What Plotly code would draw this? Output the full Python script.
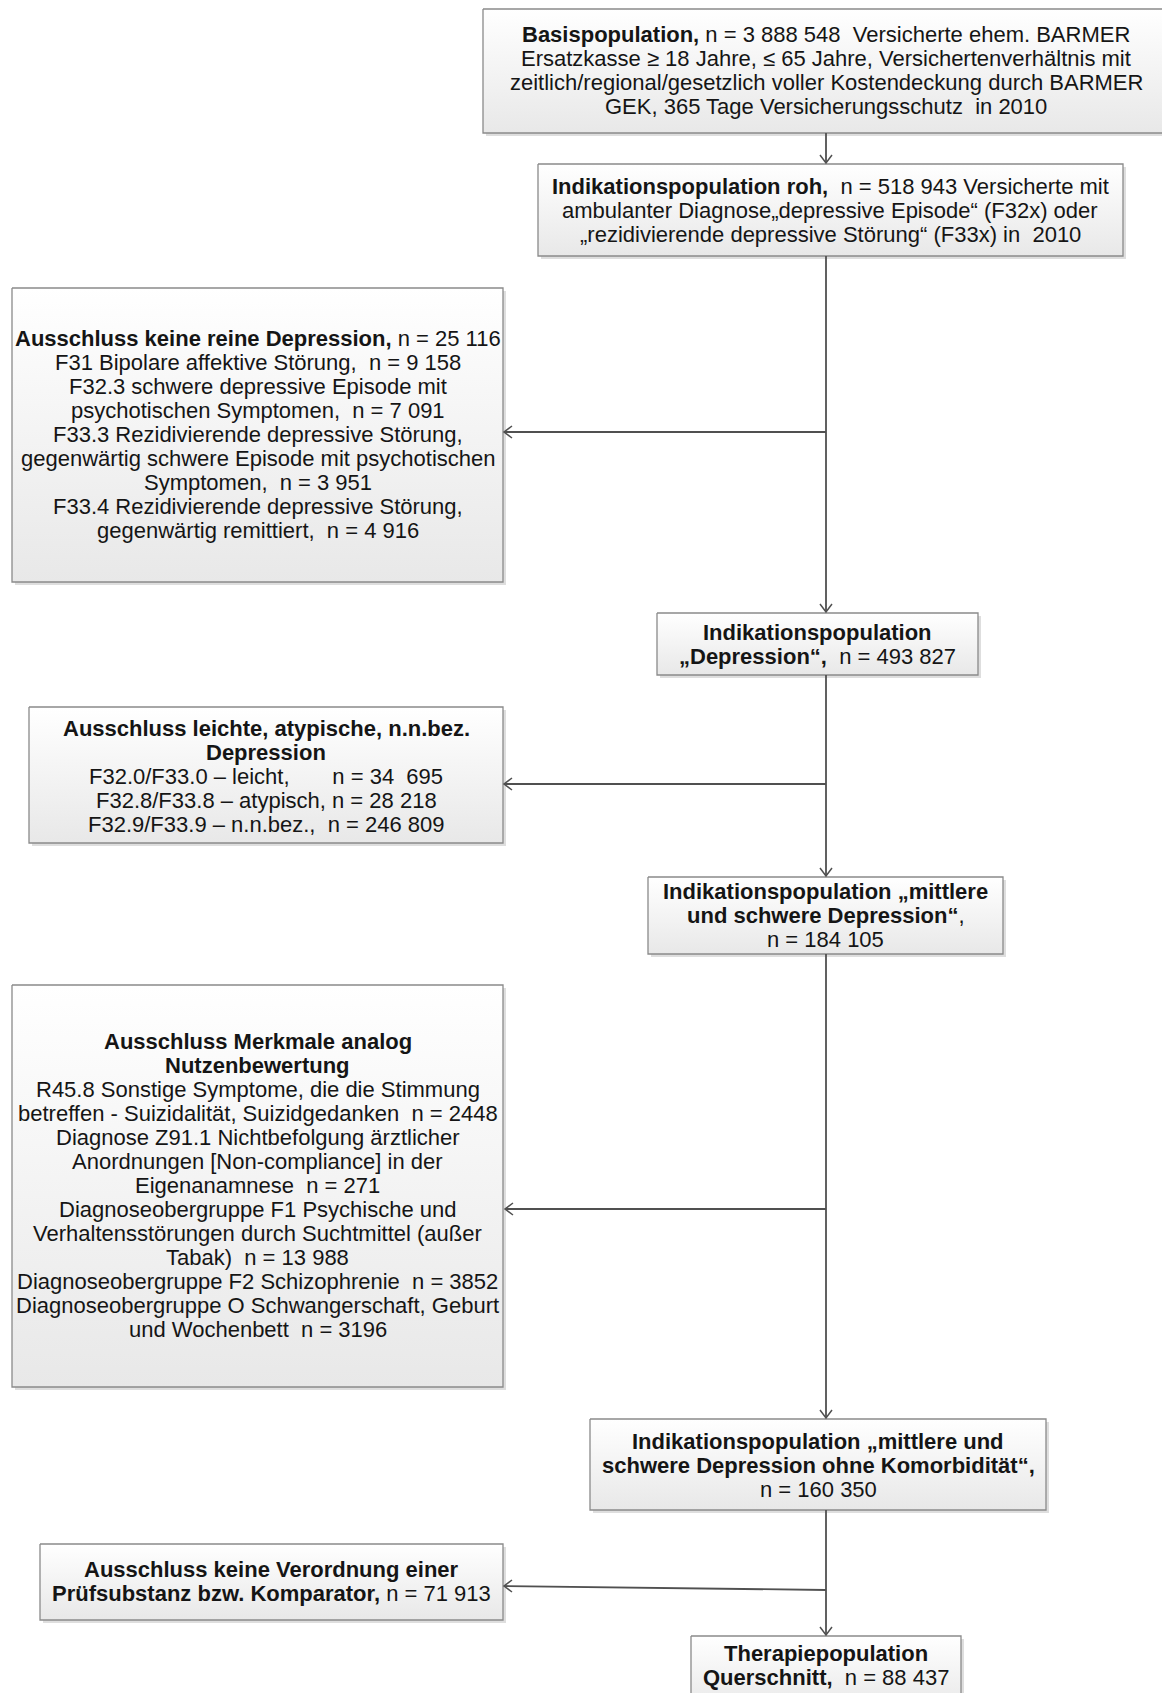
import plotly.graph_objects as go

W, H = 1162, 1693

# ---- data: population counts ----
main_n = [3888548, 518943, 493827, 184105, 160350, 88437]
excl_n = [25116, 71913]
excl1_items = [9158, 7091, 3951, 4916]
excl2_items = [34695, 28218, 246809]
excl3_items = [2448, 271, 13988, 3852, 3196]


def f(n):
    return "{:,}".format(n).replace(",", " ")


NB = "\u00a0"

box_lines = [
    [f"<b>Basispopulation,</b> n = {f(main_n[0])}{NB} Versicherte ehem. BARMER",
     "Ersatzkasse ≥ 18 Jahre, ≤ 65 Jahre, Versichertenverhältnis mit",
     "zeitlich/regional/gesetzlich voller Kostendeckung durch BARMER",
     f"GEK, 365 Tage Versicherungsschutz{NB} in 2010"],
    [f"<b>Indikationspopulation roh,</b>{NB} n = {f(main_n[1])} Versicherte mit",
     "ambulanter Diagnose„depressive Episode“ (F32x) oder",
     f"„rezidivierende depressive Störung“ (F33x) in{NB} 2010"],
    [f"<b>Ausschluss keine reine Depression,</b> n = {f(excl_n[0])}",
     f"F31 Bipolare affektive Störung,{NB} n = {f(excl1_items[0])}",
     "F32.3 schwere depressive Episode mit",
     f"psychotischen Symptomen,{NB} n = {f(excl1_items[1])}",
     "F33.3 Rezidivierende depressive Störung,",
     "gegenwärtig schwere Episode mit psychotischen",
     f"Symptomen,{NB} n = {f(excl1_items[2])}",
     "F33.4 Rezidivierende depressive Störung,",
     f"gegenwärtig remittiert,{NB} n = {f(excl1_items[3])}"],
    ["<b>Indikationspopulation</b>",
     f"<b>„Depression“,</b>{NB} n = {f(main_n[2])}"],
    ["<b>Ausschluss leichte, atypische, n.n.bez.</b>",
     "<b>Depression</b>",
     f"F32.0/F33.0 – leicht,{NB*6} n = 34{NB} 695",
     f"F32.8/F33.8 – atypisch, n = {f(excl2_items[1])}",
     f"F32.9/F33.9 – n.n.bez.,{NB} n = {f(excl2_items[2])}"],
    ["<b>Indikationspopulation „mittlere</b>",
     "<b>und schwere Depression“</b>,",
     f"n = {f(main_n[3])}"],
    ["<b>Ausschluss Merkmale analog</b>",
     "<b>Nutzenbewertung</b>",
     "R45.8 Sonstige Symptome, die die Stimmung",
     f"betreffen - Suizidalität, Suizidgedanken{NB} n = {excl3_items[0]}",
     "Diagnose Z91.1 Nichtbefolgung ärztlicher",
     "Anordnungen [Non-compliance] in der",
     f"Eigenanamnese{NB} n = {excl3_items[1]}",
     "Diagnoseobergruppe F1 Psychische und",
     "Verhaltensstörungen durch Suchtmittel (außer",
     f"Tabak){NB} n = {f(excl3_items[2])}",
     f"Diagnoseobergruppe F2 Schizophrenie{NB} n = {excl3_items[3]}",
     "Diagnoseobergruppe O Schwangerschaft, Geburt",
     f"und Wochenbett{NB} n = {excl3_items[4]}"],
    ["<b>Indikationspopulation „mittlere und</b>",
     "<b>schwere Depression ohne Komorbidität“,</b>",
     f"n = {f(main_n[4])}"],
    ["<b>Ausschluss keine Verordnung einer</b>",
     f"<b>Prüfsubstanz bzw. Komparator,</b> n = {f(excl_n[1])}"],
    ["<b>Therapiepopulation</b>",
     f"<b>Querschnitt,</b>{NB} n = {f(main_n[5])}"],
]

# box geometry (pixel coords, y downward)
boxes = [
    (483, 9, 1180, 133),
    (538, 164, 1123, 256),
    (12, 288, 503, 582),
    (657, 613, 978, 675),
    (29, 707, 503, 843),
    (648, 877, 1003, 954),
    (12, 985, 503, 1387),
    (590, 1419, 1046, 1510),
    (40, 1544, 503, 1620),
    (691, 1636, 961, 1710),
]
text_x = [826, 830, 257.5, 817.5, 266, 825.5, 257.5, 818, 271, 826]
text_y = [70, 210, 434, 644, 776, 915, 1185, 1465, 1581, 1665]
FS = 22
LS = 24

fig = go.Figure()
shapes = []
annotations = []

for (x0, y0, x1, y1) in boxes:
    shapes.append(dict(type="rect", xref="x", yref="y", x0=x0 + 3, y0=y0 + 3, x1=x1 + 3, y1=y1 + 3,
                       line=dict(width=0), fillcolor="rgba(0,0,0,0.13)", layer="below"))
    fig.add_trace(go.Scatter(
        x=[x0, x1, x1, x0, x0], y=[y0, y0, y1, y1, y0], mode="lines",
        fill="toself",
        fillgradient=dict(type="vertical", start=y0, stop=y1,
                          colorscale=[[0, "#ffffff"], [1, "#e8e8e8"]]),
        line=dict(color="#8a8a8a", width=1.3), hoverinfo="skip", showlegend=False))

for lines, cx, cy in zip(box_lines, text_x, text_y):
    n = len(lines)
    for i, t in enumerate(lines):
        annotations.append(dict(x=cx, y=cy + (i - (n - 1) / 2) * LS, xref="x", yref="y",
                                text=t, showarrow=False, xanchor="center", yanchor="middle",
                                align="center",
                                font=dict(family="Liberation Sans, Arial", size=FS, color="#151515")))

LC = "#505050"
MX = 826


def line(x0, y0, x1, y1):
    shapes.append(dict(type="line", xref="x", yref="y", x0=x0, y0=y0, x1=x1, y1=y1,
                       line=dict(color=LC, width=1.8)))


def head_down(x, y):
    shapes.append(dict(type="path", xref="x", yref="y",
                       path=f"M {x-6} {y-8} L {x} {y} L {x+6} {y-8}",
                       line=dict(color=LC, width=1.5)))


def head_left(x, y):
    shapes.append(dict(type="path", xref="x", yref="y",
                       path=f"M {x+8} {y-6} L {x} {y} L {x+8} {y+6}",
                       line=dict(color=LC, width=1.5)))


flow = [(133, 164), (256, 613), (675, 877), (954, 1419), (1510, 1636)]
for a, b in flow:
    line(MX, a, MX, b - 1)
    head_down(MX, b - 1)

branches = [(432, 432, 504), (784, 784, 504), (1209, 1209, 505), (1590, 1586, 504)]
for ym, yb, xb in branches:
    line(MX, ym, xb, yb)
    head_left(xb, yb)

fig.update_layout(
    width=W, height=H, margin=dict(l=0, r=0, t=0, b=0),
    paper_bgcolor="white", plot_bgcolor="white",
    xaxis=dict(range=[0, W], visible=False, fixedrange=True),
    yaxis=dict(range=[H, 0], visible=False, fixedrange=True),
    shapes=shapes, annotations=annotations, showlegend=False,
)

fig.write_html("out.html", post_script="document.body.style.margin='0';",
               config=dict(displayModeBar=False))
